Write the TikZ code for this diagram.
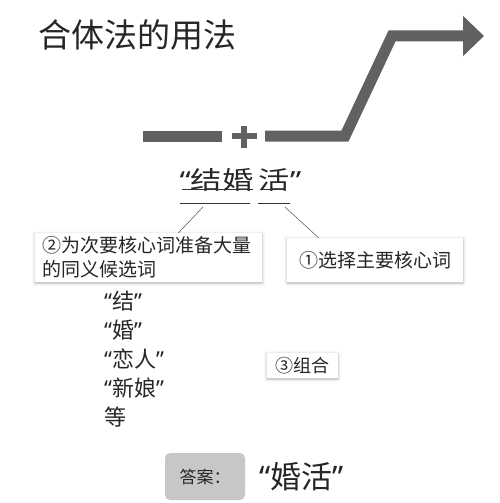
\documentclass[tikz,border=0pt]{standalone}
\usepackage{fontspec}
\setmainfont{Noto Sans CJK SC}
\newfontfamily\quotefont{Noto Sans}
\newcommand\qopen{{\quotefont “}}
\newcommand\qclose{{\quotefont ”}}
\usetikzlibrary{arrows.meta,positioning,calc,shadows.blur}

\begin{document}
\begin{tikzpicture}[
      x=1pt, y=-1pt,
      every node/.style={text=black!85, inner sep=0pt},
      band/.style={draw=black!62, line width=11pt},
      plus/.style={draw=black!62, line width=6pt},
      rule/.style={draw=black!80, line width=0.8pt},
      leader/.style={draw=black!70, line width=0.5pt},
      card/.style={
          rectangle, fill=white,
          blur shadow={shadow xshift=0pt, shadow yshift=-1pt,
                       shadow blur radius=3pt, shadow opacity=30}
        },
      title/.style={font=\fontsize{33}{38}\selectfont},
      word/.style={font=\fontsize{25}{28}\selectfont},
      small/.style={font=\fontsize{19}{24}\selectfont},
      list/.style={font=\fontsize{22}{29}\selectfont, align=left},
      answer/.style={rectangle, rounded corners=5pt, fill=black!22,
          minimum width=80pt, minimum height=47pt,
          font=\fontsize{17}{20}\selectfont},
      big/.style={font=\fontsize{31}{34}\selectfont},
    ]
    \useasboundingbox (0,0) rectangle (500,503);
    \node[title] (title) at (137,35) {合体法的用法};

    % rising arrow with plus
    \draw[band] (143,136) -- (222,136);
    \draw[plus] (232,136) -- (257,136);
    \draw[plus] (244,126) -- (244,148);
    \draw[band, -{Triangle[length=21pt 0, width=39pt 0]}]
      (265,136) -- (345,136) -- (392,36) -- (484,36);

    % the word and its parts
    \node[word] (w1) at (216.5,180) {\scalebox{1.25}[1]{\qopen 结婚}};
    \node[word] (w2) at (280,180) {\scalebox{1.25}[1]{活\qclose}};
    \draw[rule] (182,189) -- (253,189);
    \draw[rule] (260,189) -- (283,189);
    \draw[rule] (180,203) -- (250,203);
    \draw[rule] (258,203) -- (290,203);

    \node[card, small, anchor=north west, text width=213pt, align=left,
          minimum width=227pt, minimum height=49pt] (box2) at (35,233)
         {②为次要核心词准备大量\\的同义候选词};
    \node[card, small, minimum width=176pt, minimum height=44pt]
         (box1) at (375,260) {①选择主要核心词};
    \draw[leader] (203,207) -- ($(box2.north west)!0.63!(box2.north east)$);
    \draw[leader] (285,207) -- ($(box1.north west)!0.18!(box1.north east)$);

    \node[list, anchor=north west] (syn) at (104,291)
         {\qopen 结\qclose\\\qopen 婚\qclose\\\qopen 恋人\qclose\\\qopen 新娘\qclose\\等};
    \node[card, font=\fontsize{18}{22}\selectfont,
          minimum width=71pt, minimum height=25pt] (box3) at (302.5,365.5) {③组合};

    \node[answer] (ans) at (205,476.5) {答案：};
    \node[big, right=14pt of ans] (res) {\qopen 婚活\qclose};
  \end{tikzpicture}
\end{document}
